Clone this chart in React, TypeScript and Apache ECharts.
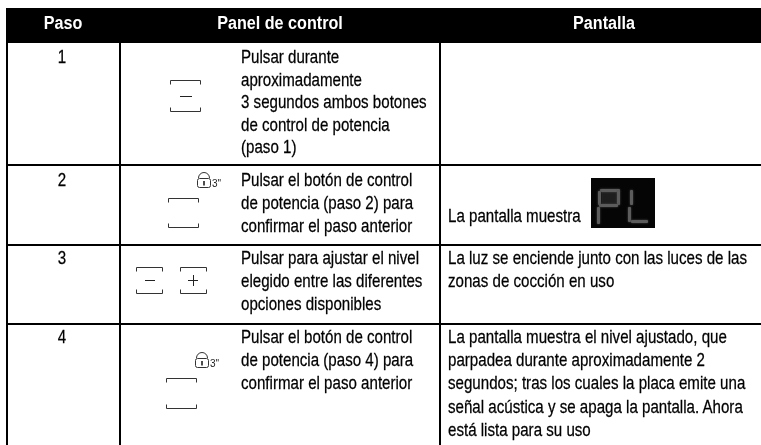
import React, { useEffect, useRef } from "react";
import * as echarts from "echarts";

const headers = ["Paso", "Panel de control", "Pantalla"];
const steps = ["1", "2", "3", "4"];
const panelText = [
  ["Pulsar durante", "aproximadamente", "3 segundos ambos botones", "de control de potencia", "(paso 1)"],
  ["Pulsar el botón de control", "de potencia (paso 2) para", "confirmar el paso anterior"],
  ["Pulsar para ajustar el nivel", "elegido entre las diferentes", "opciones disponibles"],
  ["Pulsar el botón de control", "de potencia (paso 4) para", "confirmar el paso anterior"],
];
const screenText = [
  [] as string[],
  ["La pantalla muestra"],
  ["La luz se enciende junto con las luces de las", "zonas de cocción en uso"],
  ["La pantalla muestra el nivel ajustado, que", "parpadea durante aproximadamente 2", "segundos; tras los cuales la placa emite una", "señal acústica y se apaga la pantalla. Ahora", "está lista para su uso"],
];
const rowTops = [57, 180, 258, 337];
const FONT = "'Liberation Sans', sans-serif";

function button(x0: number, x1: number, top: number, bottom: number) {
  const s = { stroke: "#333", lineWidth: 1, fill: "none" };
  return [
    { type: "polyline", shape: { points: [[x0, top + 4], [x0, top], [x1, top], [x1, top + 4]] }, style: s },
    { type: "polyline", shape: { points: [[x0, bottom - 4], [x0, bottom], [x1, bottom], [x1, bottom - 4]] }, style: s },
  ];
}
function hline(x0: number, x1: number, y: number, c = "#222") {
  return { type: "line", shape: { x1: x0, y1: y, x2: x1, y2: y }, style: { stroke: c, lineWidth: 1 } };
}
function lock(x: number, y: number) {
  return [
    { type: "rect", shape: { x: x + 0.5, y: y + 7.5, width: 13, height: 9, r: 2 }, style: { stroke: "#333", fill: "none", lineWidth: 1 } },
    { type: "arc", shape: { cx: x + 7, cy: y + 7, r: 5.5, startAngle: Math.PI, endAngle: 0 }, style: { stroke: "#333", fill: "none", lineWidth: 1 } },
    { type: "line", shape: { x1: x + 7, y1: y + 10, x2: x + 7, y2: y + 14.5 }, style: { stroke: "#111", lineWidth: 1.5 } },
    { type: "text", x: x + 15, y: y + 12, style: { text: "3\"", font: "10px 'Liberation Sans', sans-serif", fill: "#222", verticalAlign: "middle" } },
  ];
}
function seg(x: number, y: number, w: number, h: number) {
  return { type: "rect", shape: { x, y, width: w, height: h, r: 1 }, style: { fill: "#5c5c5c", shadowBlur: 2, shadowColor: "#444" } };
}

export default function App() {
  const ref = useRef<HTMLDivElement>(null);
  useEffect(() => {
    const chart = echarts.init(ref.current!, null, { renderer: "svg" });
    const text = (s: string, x: number, y: number) => ({
      type: "text", x, y, scaleX: 0.84,
      style: { text: s, fill: "#000", stroke: "#000", lineWidth: 0.25, verticalAlign: "middle", font: `18px ${FONT}` },
    });
    const digit = (s: string, x: number, y: number) => ({
      type: "text", x, y, scaleX: 0.84,
      style: { text: s, fill: "#000", stroke: "#000", lineWidth: 0.25, align: "center", verticalAlign: "middle", font: `18px ${FONT}` },
    });
    const head = (s: string, x: number) => ({
      type: "text", x, y: 23, scaleX: 0.85,
      style: { text: s, fill: "#fff", align: "center", verticalAlign: "middle", font: `bold 19px ${FONT}` },
    });
    const elements: any[] = [
      { type: "rect", shape: { x: 0, y: 0, width: 761, height: 445 }, style: { fill: "#fff" } },
      { type: "rect", shape: { x: 6, y: 8, width: 755, height: 35 }, style: { fill: "#000" } },
      head(headers[0], 63), head(headers[1], 280), head(headers[2], 604),
    ];
    for (const x of [6, 119, 439]) elements.push({ type: "rect", shape: { x, y: 43, width: 2, height: 402 }, style: { fill: "#000" } });
    for (const y of [164, 244, 323]) elements.push({ type: "rect", shape: { x: 6, y, width: 755, height: 2 }, style: { fill: "#000" } });
    steps.forEach((s, i) => {
      elements.push(digit(s, 62, rowTops[i]));
      const gap = i === 0 ? 22.6 : 23.2;
      panelText[i].forEach((t, j) => elements.push(text(t, 241, rowTops[i] + j * gap)));
      screenText[i].forEach((t, j) => elements.push(text(t, 448, i === 1 ? 216 : rowTops[i] + j * 23.2)));
    });
    // Control-panel icons
    elements.push(...button(170.5, 200.5, 80.5, 111.5), hline(180, 192, 96.5));
    elements.push(...button(168.5, 198.5, 198.5, 227.5), ...lock(197, 171));
    elements.push(...button(136.5, 162.5, 267.5, 293.5), hline(145, 155, 280.5));
    elements.push(...button(180.5, 206.5, 267.5, 293.5), hline(188, 198, 280.5),
      { type: "line", shape: { x1: 193.5, y1: 275, x2: 193.5, y2: 286 }, style: { stroke: "#222", lineWidth: 1 } });
    elements.push(...button(166.5, 196.5, 378.5, 408.5), ...lock(195, 351));
    // Display picture
    elements.push({ type: "rect", shape: { x: 591, y: 178, width: 64, height: 50 }, style: { fill: "#050505" } });
    elements.push({ type: "rect", shape: { x: 602, y: 192, width: 15, height: 12 }, style: { fill: "#1e1e1e" } });
    elements.push(seg(600, 189, 20, 3), seg(598, 191, 3, 14), seg(617, 191, 3, 14), seg(599, 204, 19, 3), seg(597, 207, 3, 17));
    elements.push(seg(630, 190, 3, 15), seg(628, 207, 3, 15), seg(631, 220, 17, 3));
    chart.setOption({ animation: false, graphic: { elements } });
    return () => chart.dispose();
  }, []);
  return <div ref={ref} style={{ position: "fixed", left: 0, top: 0, width: 761, height: 445 }} />;
}
